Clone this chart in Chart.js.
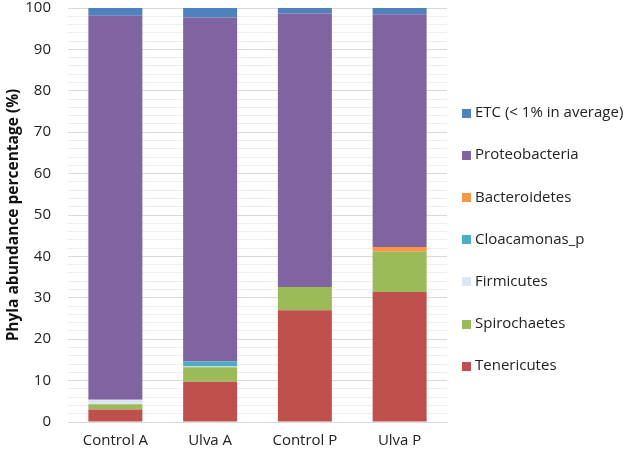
<!DOCTYPE html>
<html>
<head>
<meta charset="utf-8">
<script src="https://cdn.jsdelivr.net/npm/chart.js@4.4.0/dist/chart.umd.min.js"></script>
<style>
  html, body { margin: 0; padding: 0; background: #fff; }
  #wrap { width: 633px; height: 453px; }
</style>
</head>
<body>
<div id="wrap"><canvas id="chart"></canvas></div>
<script>
// samples on the x axis
const categories = ['Control A', 'Ulva A', 'Control P', 'Ulva P'];

// phyla abundance (%), bottom to top of each stack
const tenericutes    = [3.0, 9.7, 27.0, 31.4];
const spirochaetes   = [1.3, 3.5, 5.6, 9.7];
const firmicutes     = [1.1, 0.2, 0.0, 0.0];
const cloacamonas    = [0.0, 1.2, 0.0, 0.0];
const bacteroidetes  = [0.0, 0.0, 0.0, 1.2];
const proteobacteria = [92.7, 83.1, 66.1, 56.2];
const etc            = [1.9, 2.3, 1.3, 1.5];

const yTicks = [0, 10, 20, 30, 40, 50, 60, 70, 80, 90, 100];

const FONT = '"Open Sans", sans-serif';

// legend drawn on the right, top entry = last dataset (same as Excel)
const sideLegend = {
    id: 'sideLegend',
    afterDraw(chart, args, opts) {
        const c = chart.ctx;
        const area = chart.chartArea;
        const sets = chart.data.datasets.slice().reverse();
        c.save();
        c.font = '15px ' + FONT;
        c.textBaseline = 'middle';
        c.textAlign = 'left';
        sets.forEach((ds, i) => {
            const y = area.top + opts.offsetY + i * opts.step;
            const x = area.right + opts.offsetX;
            c.fillStyle = ds.backgroundColor;
            c.fillRect(x, Math.round(y - 4.5), 9, 9);
            c.fillStyle = '#222';
            c.fillText(ds.label, x + 13, y);
        });
        c.restore();
    }
};

const ctx = document.getElementById('chart').getContext('2d');
const chart = new Chart(ctx, {
    type: 'bar',
    data: {
        labels: categories,
        datasets: [
            { label: 'Tenericutes', data: tenericutes, backgroundColor: '#C0504D' },
            { label: 'Spirochaetes', data: spirochaetes, backgroundColor: '#9BBB59' },
            { label: 'Firmicutes', data: firmicutes, backgroundColor: '#DCE6F2' },
            { label: 'Cloacamonas_p', data: cloacamonas, backgroundColor: '#4BACC6' },
            { label: 'Bacteroidetes', data: bacteroidetes, backgroundColor: '#F79646' },
            { label: 'Proteobacteria', data: proteobacteria, backgroundColor: '#8064A2' },
            { label: 'ETC (< 1% in average)', data: etc, backgroundColor: '#4F81BD' }
        ]
    },
    plugins: [sideLegend],
    options: {
        responsive: true,
        maintainAspectRatio: false,
        animation: false,
        barPercentage: 0.57,
        categoryPercentage: 1.0,
        layout: {
            autoPadding: false,
            padding: { top: 8, right: 186, bottom: 3, left: 4 }
        },
        plugins: {
            tooltip: { enabled: false },
            legend: { display: false },
            sideLegend: { offsetX: 15, offsetY: 105, step: 42.2 }
        },
        scales: {
            x: {
                stacked: true,
                afterFit: (scale) => { scale.height = 28; },
                grid: { display: false, drawTicks: false },
                border: { color: '#d9d9d9' },
                ticks: {
                    color: '#222',
                    padding: 10,
                    font: { family: FONT, size: 15 }
                }
            },
            y: {
                stacked: true,
                min: 0,
                max: 100,
                // tick padding should only push labels sideways, not shrink the plot
                afterFit: (scale) => {
                    scale.paddingTop = 0;
                    scale.paddingBottom = 0;
                    scale.width = 64;
                },
                title: {
                    display: true,
                    text: 'Phyla abundance percentage (%)',
                    color: '#111',
                    padding: { top: 0, bottom: 3 },
                    font: { family: FONT, size: 15.5, weight: 'bold' }
                },
                border: { display: false },
                grid: {
                    drawTicks: false,
                    color: (c) => (c.tick && c.tick.value % 10 === 0) ? '#d9d9d9' : '#eeeeee'
                },
                ticks: {
                    stepSize: 2,
                    maxTicksLimit: 60,
                    autoSkip: false,
                    padding: 17,
                    color: '#222',
                    font: { family: FONT, size: 15 },
                    callback: (v) => yTicks.includes(v) ? v : ''
                }
            }
        }
    }
});
</script>
</body>
</html>
